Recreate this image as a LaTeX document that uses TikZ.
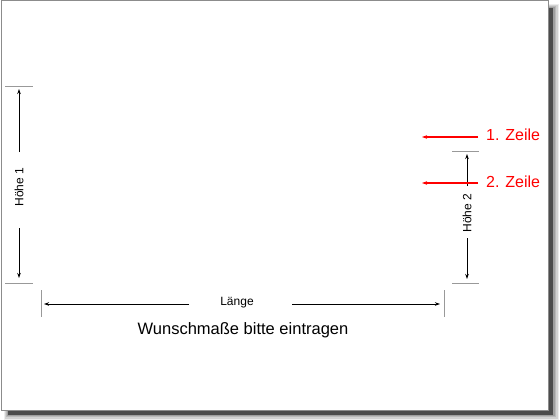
\documentclass[tikz,border=0pt]{standalone}
\usepackage{fontspec}
\setmainfont{Liberation Sans}
\usetikzlibrary{arrows.meta}
\begin{document}
\begin{tikzpicture}[x=1pt,y=-1pt,
  dim/.style={line width=1pt,black,-{Stealth[length=5pt,width=3.5pt]}},
  redarr/.style={line width=1.1pt,red,-{Stealth[length=5pt,width=3.5pt]}},
  tick/.style={line width=0.9pt,gray!80},
  lbl/.style={font=\fontsize{12}{13}\selectfont,inner sep=1pt},
  redlbl/.style={font=\fontsize{16}{18}\selectfont,text=red,inner sep=0pt,anchor=west},
  big/.style={font=\fontsize{16.5}{18}\selectfont,inner sep=0pt}]
\useasboundingbox (0,0) rectangle (560,420);
% shadow
\fill[gray!15] (4,4) rectangle (559,420);
\fill[gray!35] (5,5) rectangle (558,419);
\fill[gray!55] (6,6) rectangle (556,417);
\fill[gray!75] (7,7) rectangle (555,416);
\fill[black!70] (8,8) rectangle (553,415);
% sheet
\filldraw[fill=white,draw=gray!90,line width=1pt] (1,1) rectangle (548,410);
% left dimension
\coordinate (lt1) at (5,86); \coordinate (lt2) at (33,86);
\coordinate (lb1) at (5,283); \coordinate (lb2) at (33,283);
\draw[tick] (lt1) -- (lt2);
\draw[tick] (lb1) -- (lb2);
\node[lbl,rotate=90] (h1) at (19,187) {Höhe 1};
\coordinate (h1a) at (19,152); \coordinate (h1at) at (19,89);
\coordinate (h1b) at (19,228); \coordinate (h1bt) at (19,278);
\draw[dim] (h1a) -- (h1at);
\draw[dim] (h1b) -- (h1bt);
% bottom dimension
\coordinate (bl1) at (41,290); \coordinate (bl2) at (41,317);
\coordinate (br1) at (444,290); \coordinate (br2) at (444,317);
\draw[tick] (bl1) -- (bl2);
\draw[tick] (br1) -- (br2);
\node[lbl] (len) at (237,303) {Länge};
\coordinate (la) at (189,304); \coordinate (lat) at (44,304);
\coordinate (ra) at (292,304); \coordinate (rat) at (440,304);
\draw[dim] (la) -- (lat);
\draw[dim] (ra) -- (rat);
\node[big] (wun) at (243,330) {Wunschmaße bitte eintragen};
% right dimension
\coordinate (rt1) at (452,151); \coordinate (rt2) at (479,151);
\coordinate (rb1) at (452,283); \coordinate (rb2) at (479,283);
\draw[tick] (rt1) -- (rt2);
\draw[tick] (rb1) -- (rb2);
\node[lbl,rotate=90] (h2) at (467,213) {Höhe 2};
\coordinate (h2a) at (467,186); \coordinate (h2at) at (467,154);
\coordinate (h2b) at (467,238); \coordinate (h2bt) at (467,279);
\draw[dim] (h2a) -- (h2at);
\draw[dim] (h2b) -- (h2bt);
% red labels
\node[redlbl] (z1) at (486,135) {1. Zeile};
\node[redlbl] (z2) at (486,182) {2. Zeile};
\coordinate (z1s) at (478,137); \coordinate (z1e) at (422,137);
\coordinate (z2s) at (478,183); \coordinate (z2e) at (422,183);
\draw[redarr] (z1s) -- (z1e);
\draw[redarr] (z2s) -- (z2e);
\end{tikzpicture}
\end{document}
